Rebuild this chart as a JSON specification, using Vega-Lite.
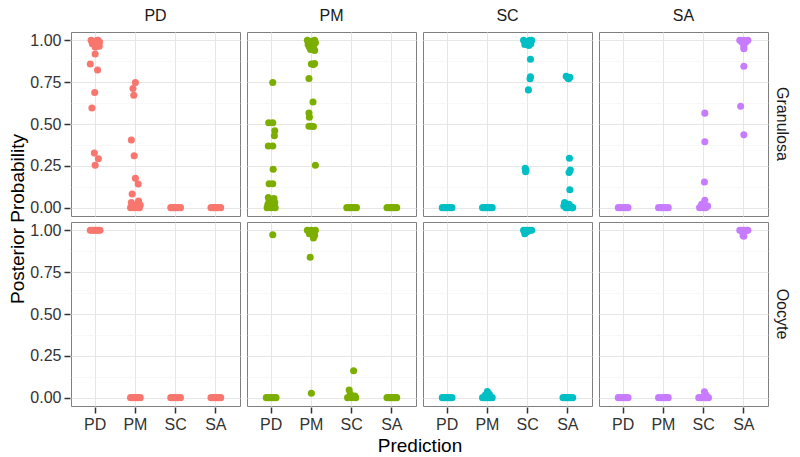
{
  "$schema": "https://vega.github.io/schema/vega-lite/v6.json",
  "background": "white",
  "padding": {"left": 8, "top": 8, "right": 3, "bottom": 2},
  "data": {"values": [
    {"actual":"PD","cell":"Granulosa","pred":"PD","prob":1.0,"jit":-0.1},
    {"actual":"PD","cell":"Granulosa","pred":"PD","prob":1.0,"jit":0.05},
    {"actual":"PD","cell":"Granulosa","pred":"PD","prob":0.99,"jit":-0.03},
    {"actual":"PD","cell":"Granulosa","pred":"PD","prob":0.99,"jit":0.11},
    {"actual":"PD","cell":"Granulosa","pred":"PD","prob":0.98,"jit":-0.07},
    {"actual":"PD","cell":"Granulosa","pred":"PD","prob":0.98,"jit":0.02},
    {"actual":"PD","cell":"Granulosa","pred":"PD","prob":0.97,"jit":0.09},
    {"actual":"PD","cell":"Granulosa","pred":"PD","prob":0.96,"jit":0.0},
    {"actual":"PD","cell":"Granulosa","pred":"PD","prob":1.0,"jit":0.07},
    {"actual":"PD","cell":"Granulosa","pred":"PD","prob":0.995,"jit":-0.05},
    {"actual":"PD","cell":"Granulosa","pred":"PD","prob":0.965,"jit":0.1},
    {"actual":"PD","cell":"Granulosa","pred":"PD","prob":0.918,"jit":0.0},
    {"actual":"PD","cell":"Granulosa","pred":"PD","prob":0.859,"jit":-0.12},
    {"actual":"PD","cell":"Granulosa","pred":"PD","prob":0.823,"jit":0.06},
    {"actual":"PD","cell":"Granulosa","pred":"PD","prob":0.688,"jit":-0.01},
    {"actual":"PD","cell":"Granulosa","pred":"PD","prob":0.596,"jit":-0.08},
    {"actual":"PD","cell":"Granulosa","pred":"PD","prob":0.326,"jit":-0.02},
    {"actual":"PD","cell":"Granulosa","pred":"PD","prob":0.292,"jit":0.08},
    {"actual":"PD","cell":"Granulosa","pred":"PD","prob":0.253,"jit":0.0},
    {"actual":"PD","cell":"Granulosa","pred":"PM","prob":0.748,"jit":0.0},
    {"actual":"PD","cell":"Granulosa","pred":"PM","prob":0.712,"jit":-0.06},
    {"actual":"PD","cell":"Granulosa","pred":"PM","prob":0.672,"jit":-0.04},
    {"actual":"PD","cell":"Granulosa","pred":"PM","prob":0.404,"jit":-0.1},
    {"actual":"PD","cell":"Granulosa","pred":"PM","prob":0.31,"jit":-0.03},
    {"actual":"PD","cell":"Granulosa","pred":"PM","prob":0.175,"jit":0.0},
    {"actual":"PD","cell":"Granulosa","pred":"PM","prob":0.141,"jit":0.07},
    {"actual":"PD","cell":"Granulosa","pred":"PM","prob":0.082,"jit":-0.08},
    {"actual":"PD","cell":"Granulosa","pred":"PM","prob":0.04,"jit":0.08},
    {"actual":"PD","cell":"Granulosa","pred":"PM","prob":0.03,"jit":-0.1},
    {"actual":"PD","cell":"Granulosa","pred":"PM","prob":0.02,"jit":0.05},
    {"actual":"PD","cell":"Granulosa","pred":"PM","prob":0.015,"jit":0.12},
    {"actual":"PD","cell":"Granulosa","pred":"PM","prob":0.01,"jit":-0.05},
    {"actual":"PD","cell":"Granulosa","pred":"PM","prob":0.005,"jit":0.02},
    {"actual":"PD","cell":"Granulosa","pred":"PM","prob":0.0,"jit":-0.12},
    {"actual":"PD","cell":"Granulosa","pred":"PM","prob":0.0,"jit":0.1},
    {"actual":"PD","cell":"Granulosa","pred":"PM","prob":0.0,"jit":-0.03},
    {"actual":"PD","cell":"Granulosa","pred":"PM","prob":0.0,"jit":0.07},
    {"actual":"PD","cell":"Granulosa","pred":"PM","prob":0.002,"jit":-0.08},
    {"actual":"PD","cell":"Granulosa","pred":"SC","prob":0.0,"jit":-0.12},
    {"actual":"PD","cell":"Granulosa","pred":"SC","prob":0.0,"jit":-0.06},
    {"actual":"PD","cell":"Granulosa","pred":"SC","prob":0.0,"jit":0.0},
    {"actual":"PD","cell":"Granulosa","pred":"SC","prob":0.0,"jit":0.06},
    {"actual":"PD","cell":"Granulosa","pred":"SC","prob":0.0,"jit":0.12},
    {"actual":"PD","cell":"Granulosa","pred":"SA","prob":0.0,"jit":-0.12},
    {"actual":"PD","cell":"Granulosa","pred":"SA","prob":0.0,"jit":-0.06},
    {"actual":"PD","cell":"Granulosa","pred":"SA","prob":0.0,"jit":0.0},
    {"actual":"PD","cell":"Granulosa","pred":"SA","prob":0.0,"jit":0.06},
    {"actual":"PD","cell":"Granulosa","pred":"SA","prob":0.0,"jit":0.12},

    {"actual":"PM","cell":"Granulosa","pred":"PD","prob":0.748,"jit":0.04},
    {"actual":"PM","cell":"Granulosa","pred":"PD","prob":0.507,"jit":-0.06},
    {"actual":"PM","cell":"Granulosa","pred":"PD","prob":0.507,"jit":0.04},
    {"actual":"PM","cell":"Granulosa","pred":"PD","prob":0.46,"jit":0.09},
    {"actual":"PM","cell":"Granulosa","pred":"PD","prob":0.43,"jit":0.08},
    {"actual":"PM","cell":"Granulosa","pred":"PD","prob":0.368,"jit":-0.07},
    {"actual":"PM","cell":"Granulosa","pred":"PD","prob":0.368,"jit":0.04},
    {"actual":"PM","cell":"Granulosa","pred":"PD","prob":0.229,"jit":0.05},
    {"actual":"PM","cell":"Granulosa","pred":"PD","prob":0.143,"jit":-0.05},
    {"actual":"PM","cell":"Granulosa","pred":"PD","prob":0.143,"jit":0.04},
    {"actual":"PM","cell":"Granulosa","pred":"PD","prob":0.06,"jit":-0.07},
    {"actual":"PM","cell":"Granulosa","pred":"PD","prob":0.055,"jit":0.07},
    {"actual":"PM","cell":"Granulosa","pred":"PD","prob":0.04,"jit":-0.05},
    {"actual":"PM","cell":"Granulosa","pred":"PD","prob":0.03,"jit":0.09},
    {"actual":"PM","cell":"Granulosa","pred":"PD","prob":0.02,"jit":-0.08},
    {"actual":"PM","cell":"Granulosa","pred":"PD","prob":0.01,"jit":0.06},
    {"actual":"PM","cell":"Granulosa","pred":"PD","prob":0.0,"jit":-0.1},
    {"actual":"PM","cell":"Granulosa","pred":"PD","prob":0.0,"jit":0.1},
    {"actual":"PM","cell":"Granulosa","pred":"PD","prob":0.0,"jit":0.0},
    {"actual":"PM","cell":"Granulosa","pred":"PD","prob":0.005,"jit":-0.04},
    {"actual":"PM","cell":"Granulosa","pred":"PD","prob":0.003,"jit":0.05},
    {"actual":"PM","cell":"Granulosa","pred":"PM","prob":1.0,"jit":-0.1},
    {"actual":"PM","cell":"Granulosa","pred":"PM","prob":1.0,"jit":0.08},
    {"actual":"PM","cell":"Granulosa","pred":"PM","prob":0.995,"jit":0.0},
    {"actual":"PM","cell":"Granulosa","pred":"PM","prob":0.99,"jit":-0.06},
    {"actual":"PM","cell":"Granulosa","pred":"PM","prob":0.985,"jit":0.1},
    {"actual":"PM","cell":"Granulosa","pred":"PM","prob":0.975,"jit":-0.08},
    {"actual":"PM","cell":"Granulosa","pred":"PM","prob":0.97,"jit":0.05},
    {"actual":"PM","cell":"Granulosa","pred":"PM","prob":0.96,"jit":-0.05},
    {"actual":"PM","cell":"Granulosa","pred":"PM","prob":0.95,"jit":0.06},
    {"actual":"PM","cell":"Granulosa","pred":"PM","prob":0.945,"jit":-0.02},
    {"actual":"PM","cell":"Granulosa","pred":"PM","prob":0.94,"jit":0.08},
    {"actual":"PM","cell":"Granulosa","pred":"PM","prob":0.859,"jit":0.0},
    {"actual":"PM","cell":"Granulosa","pred":"PM","prob":0.862,"jit":0.08},
    {"actual":"PM","cell":"Granulosa","pred":"PM","prob":0.855,"jit":0.05},
    {"actual":"PM","cell":"Granulosa","pred":"PM","prob":0.772,"jit":-0.06},
    {"actual":"PM","cell":"Granulosa","pred":"PM","prob":0.632,"jit":0.04},
    {"actual":"PM","cell":"Granulosa","pred":"PM","prob":0.566,"jit":-0.06},
    {"actual":"PM","cell":"Granulosa","pred":"PM","prob":0.541,"jit":-0.05},
    {"actual":"PM","cell":"Granulosa","pred":"PM","prob":0.487,"jit":-0.06},
    {"actual":"PM","cell":"Granulosa","pred":"PM","prob":0.487,"jit":0.0},
    {"actual":"PM","cell":"Granulosa","pred":"PM","prob":0.485,"jit":0.05},
    {"actual":"PM","cell":"Granulosa","pred":"PM","prob":0.253,"jit":0.1},
    {"actual":"PM","cell":"Granulosa","pred":"SC","prob":0.0,"jit":-0.12},
    {"actual":"PM","cell":"Granulosa","pred":"SC","prob":0.0,"jit":-0.06},
    {"actual":"PM","cell":"Granulosa","pred":"SC","prob":0.0,"jit":0.0},
    {"actual":"PM","cell":"Granulosa","pred":"SC","prob":0.0,"jit":0.06},
    {"actual":"PM","cell":"Granulosa","pred":"SC","prob":0.0,"jit":0.12},
    {"actual":"PM","cell":"Granulosa","pred":"SA","prob":0.0,"jit":-0.12},
    {"actual":"PM","cell":"Granulosa","pred":"SA","prob":0.0,"jit":-0.06},
    {"actual":"PM","cell":"Granulosa","pred":"SA","prob":0.0,"jit":0.0},
    {"actual":"PM","cell":"Granulosa","pred":"SA","prob":0.0,"jit":0.06},
    {"actual":"PM","cell":"Granulosa","pred":"SA","prob":0.0,"jit":0.12},

    {"actual":"SC","cell":"Granulosa","pred":"SC","prob":1.0,"jit":-0.1},
    {"actual":"SC","cell":"Granulosa","pred":"SC","prob":1.0,"jit":0.05},
    {"actual":"SC","cell":"Granulosa","pred":"SC","prob":1.0,"jit":0.1},
    {"actual":"SC","cell":"Granulosa","pred":"SC","prob":0.99,"jit":-0.05},
    {"actual":"SC","cell":"Granulosa","pred":"SC","prob":0.985,"jit":0.0},
    {"actual":"SC","cell":"Granulosa","pred":"SC","prob":0.98,"jit":0.08},
    {"actual":"SC","cell":"Granulosa","pred":"SC","prob":0.975,"jit":-0.07},
    {"actual":"SC","cell":"Granulosa","pred":"SC","prob":0.97,"jit":0.03},
    {"actual":"SC","cell":"Granulosa","pred":"SC","prob":0.887,"jit":0.07},
    {"actual":"SC","cell":"Granulosa","pred":"SC","prob":0.782,"jit":0.07},
    {"actual":"SC","cell":"Granulosa","pred":"SC","prob":0.77,"jit":0.06},
    {"actual":"SC","cell":"Granulosa","pred":"SC","prob":0.704,"jit":0.02},
    {"actual":"SC","cell":"Granulosa","pred":"SC","prob":0.235,"jit":-0.06},
    {"actual":"SC","cell":"Granulosa","pred":"SC","prob":0.225,"jit":-0.04},
    {"actual":"SC","cell":"Granulosa","pred":"SC","prob":0.215,"jit":-0.05},
    {"actual":"SC","cell":"Granulosa","pred":"SA","prob":0.785,"jit":-0.04},
    {"actual":"SC","cell":"Granulosa","pred":"SA","prob":0.78,"jit":0.05},
    {"actual":"SC","cell":"Granulosa","pred":"SA","prob":0.775,"jit":0.0},
    {"actual":"SC","cell":"Granulosa","pred":"SA","prob":0.77,"jit":0.02},
    {"actual":"SC","cell":"Granulosa","pred":"SA","prob":0.295,"jit":0.04},
    {"actual":"SC","cell":"Granulosa","pred":"SA","prob":0.225,"jit":0.06},
    {"actual":"SC","cell":"Granulosa","pred":"SA","prob":0.21,"jit":0.03},
    {"actual":"SC","cell":"Granulosa","pred":"SA","prob":0.107,"jit":0.05},
    {"actual":"SC","cell":"Granulosa","pred":"SA","prob":0.03,"jit":-0.08},
    {"actual":"SC","cell":"Granulosa","pred":"SA","prob":0.02,"jit":0.03},
    {"actual":"SC","cell":"Granulosa","pred":"SA","prob":0.01,"jit":-0.1},
    {"actual":"SC","cell":"Granulosa","pred":"SA","prob":0.005,"jit":0.08},
    {"actual":"SC","cell":"Granulosa","pred":"SA","prob":0.0,"jit":0.1},
    {"actual":"SC","cell":"Granulosa","pred":"SA","prob":0.0,"jit":-0.05},
    {"actual":"SC","cell":"Granulosa","pred":"SA","prob":0.0,"jit":0.0},
    {"actual":"SC","cell":"Granulosa","pred":"SA","prob":0.0,"jit":0.12},
    {"actual":"SC","cell":"Granulosa","pred":"PD","prob":0.0,"jit":-0.12},
    {"actual":"SC","cell":"Granulosa","pred":"PD","prob":0.0,"jit":-0.06},
    {"actual":"SC","cell":"Granulosa","pred":"PD","prob":0.0,"jit":0.0},
    {"actual":"SC","cell":"Granulosa","pred":"PD","prob":0.0,"jit":0.06},
    {"actual":"SC","cell":"Granulosa","pred":"PD","prob":0.0,"jit":0.12},
    {"actual":"SC","cell":"Granulosa","pred":"PM","prob":0.0,"jit":-0.12},
    {"actual":"SC","cell":"Granulosa","pred":"PM","prob":0.0,"jit":-0.06},
    {"actual":"SC","cell":"Granulosa","pred":"PM","prob":0.0,"jit":0.0},
    {"actual":"SC","cell":"Granulosa","pred":"PM","prob":0.0,"jit":0.06},
    {"actual":"SC","cell":"Granulosa","pred":"PM","prob":0.0,"jit":0.12},

    {"actual":"SA","cell":"Granulosa","pred":"SA","prob":1.0,"jit":-0.1},
    {"actual":"SA","cell":"Granulosa","pred":"SA","prob":1.0,"jit":0.0},
    {"actual":"SA","cell":"Granulosa","pred":"SA","prob":1.0,"jit":0.1},
    {"actual":"SA","cell":"Granulosa","pred":"SA","prob":0.99,"jit":-0.05},
    {"actual":"SA","cell":"Granulosa","pred":"SA","prob":0.99,"jit":0.05},
    {"actual":"SA","cell":"Granulosa","pred":"SA","prob":0.975,"jit":0.0},
    {"actual":"SA","cell":"Granulosa","pred":"SA","prob":0.96,"jit":0.0},
    {"actual":"SA","cell":"Granulosa","pred":"SA","prob":0.95,"jit":0.0},
    {"actual":"SA","cell":"Granulosa","pred":"SA","prob":0.845,"jit":0.0},
    {"actual":"SA","cell":"Granulosa","pred":"SA","prob":0.606,"jit":-0.08},
    {"actual":"SA","cell":"Granulosa","pred":"SA","prob":0.435,"jit":0.0},
    {"actual":"SA","cell":"Granulosa","pred":"SC","prob":0.565,"jit":0.03},
    {"actual":"SA","cell":"Granulosa","pred":"SC","prob":0.394,"jit":0.03},
    {"actual":"SA","cell":"Granulosa","pred":"SC","prob":0.153,"jit":0.02},
    {"actual":"SA","cell":"Granulosa","pred":"SC","prob":0.044,"jit":0.03},
    {"actual":"SA","cell":"Granulosa","pred":"SC","prob":0.02,"jit":-0.05},
    {"actual":"SA","cell":"Granulosa","pred":"SC","prob":0.01,"jit":0.1},
    {"actual":"SA","cell":"Granulosa","pred":"SC","prob":0.0,"jit":-0.1},
    {"actual":"SA","cell":"Granulosa","pred":"SC","prob":0.0,"jit":0.05},
    {"actual":"SA","cell":"Granulosa","pred":"SC","prob":0.0,"jit":0.0},
    {"actual":"SA","cell":"Granulosa","pred":"SC","prob":0.005,"jit":0.08},
    {"actual":"SA","cell":"Granulosa","pred":"PD","prob":0.0,"jit":-0.12},
    {"actual":"SA","cell":"Granulosa","pred":"PD","prob":0.0,"jit":-0.06},
    {"actual":"SA","cell":"Granulosa","pred":"PD","prob":0.0,"jit":0.0},
    {"actual":"SA","cell":"Granulosa","pred":"PD","prob":0.0,"jit":0.06},
    {"actual":"SA","cell":"Granulosa","pred":"PD","prob":0.0,"jit":0.12},
    {"actual":"SA","cell":"Granulosa","pred":"PM","prob":0.0,"jit":-0.12},
    {"actual":"SA","cell":"Granulosa","pred":"PM","prob":0.0,"jit":-0.06},
    {"actual":"SA","cell":"Granulosa","pred":"PM","prob":0.0,"jit":0.0},
    {"actual":"SA","cell":"Granulosa","pred":"PM","prob":0.0,"jit":0.06},
    {"actual":"SA","cell":"Granulosa","pred":"PM","prob":0.0,"jit":0.12},

    {"actual":"PD","cell":"Oocyte","pred":"PD","prob":1.0,"jit":-0.12},
    {"actual":"PD","cell":"Oocyte","pred":"PD","prob":1.0,"jit":-0.06},
    {"actual":"PD","cell":"Oocyte","pred":"PD","prob":1.0,"jit":0.0},
    {"actual":"PD","cell":"Oocyte","pred":"PD","prob":1.0,"jit":0.06},
    {"actual":"PD","cell":"Oocyte","pred":"PD","prob":1.0,"jit":0.12},
    {"actual":"PD","cell":"Oocyte","pred":"PM","prob":0.0,"jit":-0.12},
    {"actual":"PD","cell":"Oocyte","pred":"PM","prob":0.0,"jit":-0.06},
    {"actual":"PD","cell":"Oocyte","pred":"PM","prob":0.0,"jit":0.0},
    {"actual":"PD","cell":"Oocyte","pred":"PM","prob":0.0,"jit":0.06},
    {"actual":"PD","cell":"Oocyte","pred":"PM","prob":0.0,"jit":0.12},
    {"actual":"PD","cell":"Oocyte","pred":"SC","prob":0.0,"jit":-0.12},
    {"actual":"PD","cell":"Oocyte","pred":"SC","prob":0.0,"jit":-0.06},
    {"actual":"PD","cell":"Oocyte","pred":"SC","prob":0.0,"jit":0.0},
    {"actual":"PD","cell":"Oocyte","pred":"SC","prob":0.0,"jit":0.06},
    {"actual":"PD","cell":"Oocyte","pred":"SC","prob":0.0,"jit":0.12},
    {"actual":"PD","cell":"Oocyte","pred":"SA","prob":0.0,"jit":-0.12},
    {"actual":"PD","cell":"Oocyte","pred":"SA","prob":0.0,"jit":-0.06},
    {"actual":"PD","cell":"Oocyte","pred":"SA","prob":0.0,"jit":0.0},
    {"actual":"PD","cell":"Oocyte","pred":"SA","prob":0.0,"jit":0.06},
    {"actual":"PD","cell":"Oocyte","pred":"SA","prob":0.0,"jit":0.12},

    {"actual":"PM","cell":"Oocyte","pred":"PD","prob":0.974,"jit":0.04},
    {"actual":"PM","cell":"Oocyte","pred":"PD","prob":0.0,"jit":-0.12},
    {"actual":"PM","cell":"Oocyte","pred":"PD","prob":0.0,"jit":-0.06},
    {"actual":"PM","cell":"Oocyte","pred":"PD","prob":0.0,"jit":0.0},
    {"actual":"PM","cell":"Oocyte","pred":"PD","prob":0.0,"jit":0.06},
    {"actual":"PM","cell":"Oocyte","pred":"PD","prob":0.0,"jit":0.12},
    {"actual":"PM","cell":"Oocyte","pred":"PM","prob":1.0,"jit":-0.1},
    {"actual":"PM","cell":"Oocyte","pred":"PM","prob":1.0,"jit":0.0},
    {"actual":"PM","cell":"Oocyte","pred":"PM","prob":1.0,"jit":0.1},
    {"actual":"PM","cell":"Oocyte","pred":"PM","prob":0.99,"jit":0.05},
    {"actual":"PM","cell":"Oocyte","pred":"PM","prob":0.98,"jit":-0.05},
    {"actual":"PM","cell":"Oocyte","pred":"PM","prob":0.97,"jit":0.08},
    {"actual":"PM","cell":"Oocyte","pred":"PM","prob":0.955,"jit":0.05},
    {"actual":"PM","cell":"Oocyte","pred":"PM","prob":0.839,"jit":-0.03},
    {"actual":"PM","cell":"Oocyte","pred":"PM","prob":0.026,"jit":0.0},
    {"actual":"PM","cell":"Oocyte","pred":"SC","prob":0.161,"jit":0.05},
    {"actual":"PM","cell":"Oocyte","pred":"SC","prob":0.046,"jit":-0.06},
    {"actual":"PM","cell":"Oocyte","pred":"SC","prob":0.02,"jit":-0.03},
    {"actual":"PM","cell":"Oocyte","pred":"SC","prob":0.01,"jit":0.08},
    {"actual":"PM","cell":"Oocyte","pred":"SC","prob":0.0,"jit":-0.1},
    {"actual":"PM","cell":"Oocyte","pred":"SC","prob":0.0,"jit":0.1},
    {"actual":"PM","cell":"Oocyte","pred":"SC","prob":0.0,"jit":0.0},
    {"actual":"PM","cell":"Oocyte","pred":"SA","prob":0.0,"jit":-0.12},
    {"actual":"PM","cell":"Oocyte","pred":"SA","prob":0.0,"jit":-0.06},
    {"actual":"PM","cell":"Oocyte","pred":"SA","prob":0.0,"jit":0.0},
    {"actual":"PM","cell":"Oocyte","pred":"SA","prob":0.0,"jit":0.06},
    {"actual":"PM","cell":"Oocyte","pred":"SA","prob":0.0,"jit":0.12},

    {"actual":"SC","cell":"Oocyte","pred":"SC","prob":1.0,"jit":-0.1},
    {"actual":"SC","cell":"Oocyte","pred":"SC","prob":1.0,"jit":-0.03},
    {"actual":"SC","cell":"Oocyte","pred":"SC","prob":1.0,"jit":0.04},
    {"actual":"SC","cell":"Oocyte","pred":"SC","prob":1.0,"jit":0.1},
    {"actual":"SC","cell":"Oocyte","pred":"SC","prob":0.99,"jit":-0.02},
    {"actual":"SC","cell":"Oocyte","pred":"SC","prob":0.98,"jit":-0.07},
    {"actual":"SC","cell":"Oocyte","pred":"PD","prob":0.0,"jit":-0.12},
    {"actual":"SC","cell":"Oocyte","pred":"PD","prob":0.0,"jit":-0.06},
    {"actual":"SC","cell":"Oocyte","pred":"PD","prob":0.0,"jit":0.0},
    {"actual":"SC","cell":"Oocyte","pred":"PD","prob":0.0,"jit":0.06},
    {"actual":"SC","cell":"Oocyte","pred":"PD","prob":0.0,"jit":0.12},
    {"actual":"SC","cell":"Oocyte","pred":"PM","prob":0.0,"jit":-0.12},
    {"actual":"SC","cell":"Oocyte","pred":"PM","prob":0.0,"jit":-0.06},
    {"actual":"SC","cell":"Oocyte","pred":"PM","prob":0.0,"jit":0.0},
    {"actual":"SC","cell":"Oocyte","pred":"PM","prob":0.0,"jit":0.06},
    {"actual":"SC","cell":"Oocyte","pred":"PM","prob":0.0,"jit":0.12},
    {"actual":"SC","cell":"Oocyte","pred":"PM","prob":0.036,"jit":0.0},
    {"actual":"SC","cell":"Oocyte","pred":"PM","prob":0.02,"jit":0.05},
    {"actual":"SC","cell":"Oocyte","pred":"PM","prob":0.015,"jit":-0.05},
    {"actual":"SC","cell":"Oocyte","pred":"SA","prob":0.0,"jit":-0.12},
    {"actual":"SC","cell":"Oocyte","pred":"SA","prob":0.0,"jit":-0.06},
    {"actual":"SC","cell":"Oocyte","pred":"SA","prob":0.0,"jit":0.0},
    {"actual":"SC","cell":"Oocyte","pred":"SA","prob":0.0,"jit":0.06},
    {"actual":"SC","cell":"Oocyte","pred":"SA","prob":0.0,"jit":0.12},

    {"actual":"SA","cell":"Oocyte","pred":"SA","prob":1.0,"jit":-0.1},
    {"actual":"SA","cell":"Oocyte","pred":"SA","prob":1.0,"jit":-0.05},
    {"actual":"SA","cell":"Oocyte","pred":"SA","prob":1.0,"jit":0.0},
    {"actual":"SA","cell":"Oocyte","pred":"SA","prob":1.0,"jit":0.05},
    {"actual":"SA","cell":"Oocyte","pred":"SA","prob":1.0,"jit":0.1},
    {"actual":"SA","cell":"Oocyte","pred":"SA","prob":0.965,"jit":0.0},
    {"actual":"SA","cell":"Oocyte","pred":"SA","prob":0.97,"jit":-0.02},
    {"actual":"SA","cell":"Oocyte","pred":"SC","prob":0.0,"jit":-0.12},
    {"actual":"SA","cell":"Oocyte","pred":"SC","prob":0.0,"jit":-0.06},
    {"actual":"SA","cell":"Oocyte","pred":"SC","prob":0.0,"jit":0.0},
    {"actual":"SA","cell":"Oocyte","pred":"SC","prob":0.0,"jit":0.06},
    {"actual":"SA","cell":"Oocyte","pred":"SC","prob":0.0,"jit":0.12},
    {"actual":"SA","cell":"Oocyte","pred":"SC","prob":0.035,"jit":0.02},
    {"actual":"SA","cell":"Oocyte","pred":"SC","prob":0.015,"jit":0.06},
    {"actual":"SA","cell":"Oocyte","pred":"PD","prob":0.0,"jit":-0.12},
    {"actual":"SA","cell":"Oocyte","pred":"PD","prob":0.0,"jit":-0.06},
    {"actual":"SA","cell":"Oocyte","pred":"PD","prob":0.0,"jit":0.0},
    {"actual":"SA","cell":"Oocyte","pred":"PD","prob":0.0,"jit":0.06},
    {"actual":"SA","cell":"Oocyte","pred":"PD","prob":0.0,"jit":0.12},
    {"actual":"SA","cell":"Oocyte","pred":"PM","prob":0.0,"jit":-0.12},
    {"actual":"SA","cell":"Oocyte","pred":"PM","prob":0.0,"jit":-0.06},
    {"actual":"SA","cell":"Oocyte","pred":"PM","prob":0.0,"jit":0.0},
    {"actual":"SA","cell":"Oocyte","pred":"PM","prob":0.0,"jit":0.06},
    {"actual":"SA","cell":"Oocyte","pred":"PM","prob":0.0,"jit":0.12}
  ]},
  "facet": {
    "column": {"field": "actual", "type": "nominal", "sort": ["PD", "PM", "SC", "SA"],
      "header": {"title": "Prediction", "titleOrient": "bottom", "labelOrient": "top",
        "titleFont": "Liberation Sans", "titleFontSize": 19, "titleFontWeight": "normal", "titleColor": "#000000", "titlePadding": -5,
        "labelFontSize": 16, "labelColor": "#1a1a1a", "labelFont": "Liberation Sans", "labelPadding": 7}},
    "row": {"field": "cell", "type": "nominal", "sort": ["Granulosa", "Oocyte"],
      "header": {"title": "Posterior Probability", "titleOrient": "left", "labelOrient": "right", "labelAngle": 90,
        "titleFont": "Liberation Sans", "titleFontSize": 19, "titleFontWeight": "normal", "titleColor": "#000000", "titlePadding": -9,
        "labelFontSize": 16, "labelColor": "#1a1a1a", "labelFont": "Liberation Sans", "labelPadding": 5}}
  },
  "spacing": {"row": 4, "column": 5},
  "spec": {
    "width": 169,
    "height": 184,
    "mark": {"type": "point", "filled": true, "size": 50, "opacity": 1},
    "encoding": {
      "x": {"field": "pred", "type": "nominal", "sort": ["PD", "PM", "SC", "SA"],
        "scale": {"type": "band", "paddingInner": 0, "paddingOuter": 0.1},
        "axis": {"title": null, "labelAngle": 0, "bandPosition": 0.5, "grid": true}},
      "xOffset": {"field": "jit", "type": "quantitative", "scale": {"domain": [-0.5, 0.5]}},
      "y": {"field": "prob", "type": "quantitative",
        "scale": {"domain": [-0.05, 1.05], "nice": false, "zero": false},
        "axis": {"title": null,
          "values": [0, 0.125, 0.25, 0.375, 0.5, 0.625, 0.75, 0.875, 1],
          "labelExpr": "(datum.value * 4) % 1 === 0 ? format(datum.value, '.2f') : ''",
          "tickOpacity": {"condition": {"test": "(datum.value * 4) % 1 !== 0", "value": 0}, "value": 1},
          "gridWidth": {"condition": {"test": "(datum.value * 4) % 1 !== 0", "value": 0.5}, "value": 1},
          "gridColor": {"condition": {"test": "(datum.value * 4) % 1 !== 0", "value": "#f0f0f0"}, "value": "#e6e6e6"}}},
      "color": {"field": "actual", "type": "nominal", "legend": null,
        "scale": {"domain": ["PD", "PM", "SC", "SA"], "range": ["#F8766D", "#7CAE00", "#00BFC4", "#C77CFF"]}}
    }
  },
  "config": {
    "view": {"stroke": "#7f7f7f", "strokeWidth": 1},
    "axis": {
      "domain": false, "grid": true, "gridColor": "#e6e6e6",
      "labelFont": "Liberation Sans", "labelFontSize": 16, "labelColor": "#333333",
      "tickColor": "#333333", "tickSize": 6, "tickWidth": 1.5, "labelPadding": 3
    }
  }
}
